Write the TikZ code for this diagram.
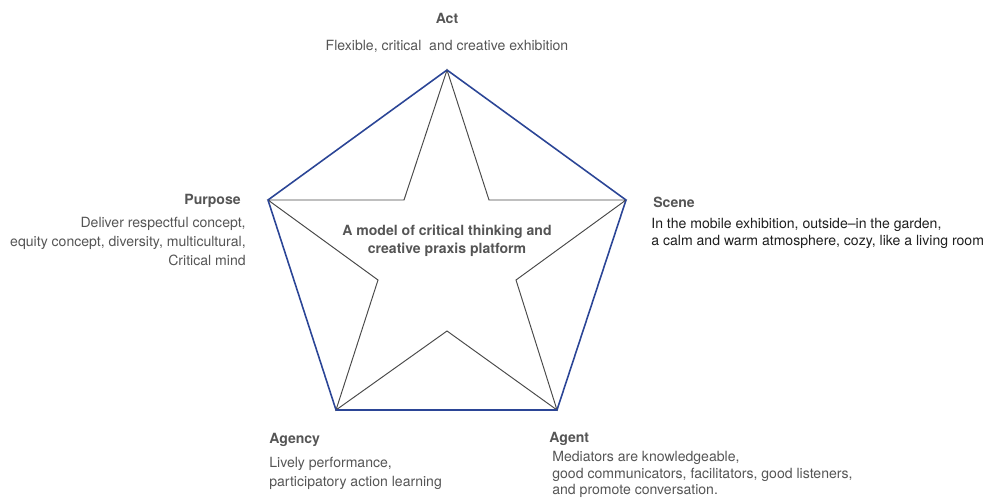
\documentclass[tikz,border=0pt]{standalone}
\usepackage{fontspec}
\setmainfont{TeX Gyre Heros}
\usepackage{tikz}
\usetikzlibrary{positioning}
\definecolor{pxEdge}{HTML}{2B4596}
\definecolor{pxStar}{HTML}{4A4A4A}
\definecolor{pxText}{HTML}{555555}
\definecolor{pxDark}{HTML}{1E1E1E}

\tikzset{
  head/.style={font=\fontsize{8}{10}\selectfont\bfseries, text=pxText, inner sep=0pt},
  body/.style={font=\fontsize{8}{10.8}\selectfont, text=pxText, inner sep=0pt},
  tight/.style={font=\fontsize{8}{9.5}\selectfont},
}

\begin{document}
\begin{tikzpicture}[x=0.02cm, y=0.02cm]
  \useasboundingbox (0,0) rectangle (990,498);

  % outer corners of the pentagon
  \coordinate (act)     at (447,428);
  \coordinate (scene)   at (626,298);
  \coordinate (agent)   at (557,88);
  \coordinate (agency)  at (336,88);
  \coordinate (purpose) at (268,298);
  % inner corners of the star
  \coordinate (inAS) at (489,298);
  \coordinate (inSG) at (516,218);
  \coordinate (inGY) at (447,167);
  \coordinate (inYP) at (378,218);
  \coordinate (inPA) at (404,298);

  \draw[pxStar, line width=0.55pt] (act) -- (inAS) -- (scene) -- (inSG) -- (agent)
    -- (inGY) -- (agency) -- (inYP) -- (purpose) -- (inPA) -- cycle;
  \draw[pxEdge, line width=0.9pt, line join=round]
    (act) -- (scene) -- (agent) -- (agency) -- (purpose) -- cycle;

  \node[head, align=center] (core) at (447,257)
    {\fontsize{8}{9.2}\selectfont A model of critical thinking and\\creative praxis platform};

  % Act
  \node[head] (actHead) at (447,480) {Act};
  \node[body, below=16.5 of actHead] (actText)
    {Flexible, critical \ and creative exhibition};

  % Purpose
  \node[head, anchor=east] (purposeHead) at (241,297) {Purpose};
  \node[body, anchor=north east, align=right] (purposeText) at (246,281)
    {Deliver respectful concept,\\equity concept, diversity, multicultural,\\Critical mind};

  % Scene
  \node[head, anchor=west] (sceneHead) at (653,296) {Scene};
  \node[body, tight, text=pxDark, anchor=north west, align=left] (sceneText) at (651,280)
    {In the mobile exhibition, outside--in the garden,\\a calm and warm atmosphere, cozy, like a living room};

  % Agency
  \node[head, anchor=west] (agencyHead) at (269,58) {Agency};
  \node[body, anchor=north west, align=left] (agencyText) at (269,41)
    {Lively performance,\\participatory action learning};

  % Agent
  \node[head, anchor=west] (agentHead) at (549,59) {Agent};
  \node[body, tight, anchor=north west, align=left] (agentText) at (552,47)
    {Mediators are knowledgeable,\\good communicators, facilitators, good listeners,\\and promote conversation.};
\end{tikzpicture}
\end{document}
